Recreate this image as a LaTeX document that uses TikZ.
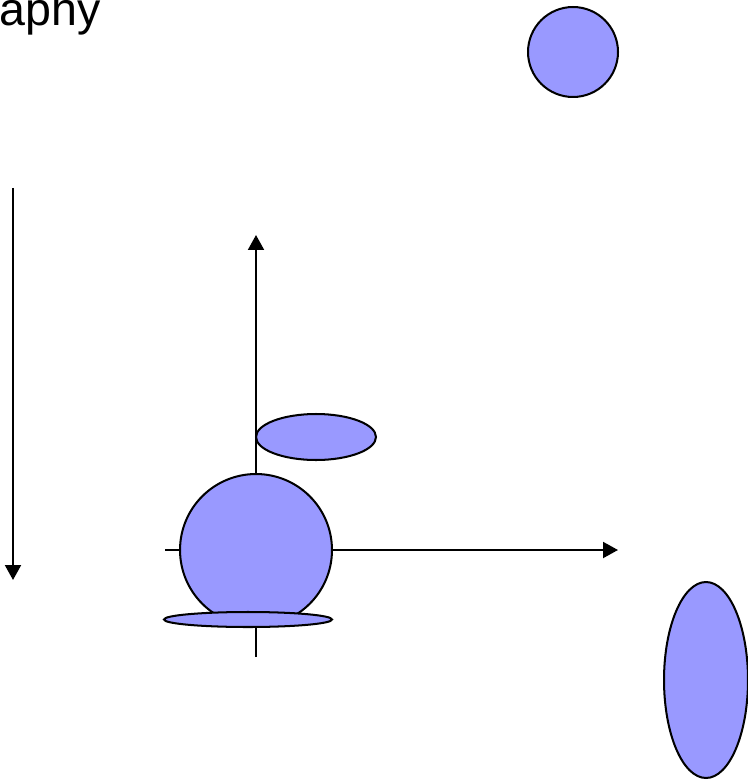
\documentclass[tikz,border=0pt]{standalone}
\usepackage{fontspec}
\setmainfont{Liberation Sans}
\usetikzlibrary{arrows.meta,shapes.geometric}
\definecolor{Lilac}{HTML}{9999FF}
\tikzset{
  blob/.style={draw=black,fill=Lilac,ellipse,inner sep=0pt,line width=1.15pt},
  axis/.style={-{Triangle[length=0.3cm,width=0.32cm]},draw=black,line width=1.15pt},
  title/.style={anchor=base west,inner sep=0pt,font=\fontsize{26.5}{30}\selectfont},
}
\begin{document}
\begin{tikzpicture}[x=0.02cm,y=-0.02cm]
        \useasboundingbox (0,0) rectangle (747,780);
        \node[title] (word) at (-1,26) {aphy};
        % axes
        \coordinate (down0) at (13,188);
        \coordinate (down1) at (13,580);
        \coordinate (xlo) at (165,550);
        \coordinate (xhi) at (618,550);
        \coordinate (ylo) at (256,657);
        \coordinate (yhi) at (256,235);
        \draw[axis] (down0) -- (down1);
        \draw[axis] (xlo) -- (xhi);
        \draw[axis] (ylo) -- (yhi);
        % shapes
        \node[blob,minimum width=1.8cm,minimum height=1.8cm] (ball) at (573,52) {};
        \node[blob,minimum width=2.4cm,minimum height=0.92cm] (disc) at (316,437) {};
        \node[blob,minimum width=3.04cm,minimum height=3.04cm] (body) at (256,550) {};
        \node[blob,minimum width=3.36cm,minimum height=0.3cm] (plate) at (248,619.5) {};
        \node[blob,minimum width=1.68cm,minimum height=3.92cm] (egg) at (706,680) {};
      \end{tikzpicture}
\end{document}
